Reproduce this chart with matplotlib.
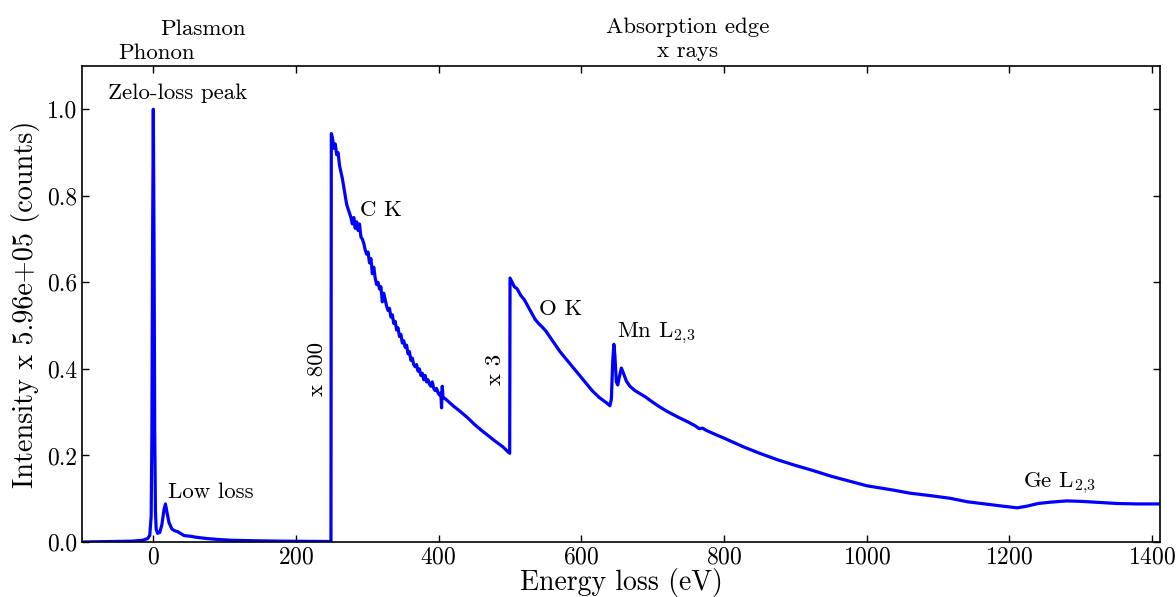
import numpy as np
import matplotlib
matplotlib.use('Agg')
import matplotlib.pyplot as plt

plt.rcParams['font.family'] = 'serif'
plt.rcParams['font.serif'] = ['cmr10', 'DejaVu Serif']
plt.rcParams['mathtext.fontset'] = 'cm'
plt.rcParams['axes.formatter.use_mathtext'] = True

# spectrum (energy in eV, intensity normalised)
energy = [-100, -60, -30, -15, -8, -5, -3, -2, -1, 0, 1, 2, 3, 4, 6, 9, 12, 15, 17, 19,
          22, 26, 30, 34, 38, 43, 48, 53, 60, 75, 90, 110, 140, 180, 220, 249, 249.5,
          251, 253, 255, 257, 259, 261, 263, 265, 267, 269, 271, 273, 275, 277, 279, 281,
          283, 285, 287, 289, 291, 293, 295, 297, 299, 301, 303, 305, 307, 309, 311, 313,
          315, 317, 319, 321, 323, 325, 327, 329, 331, 333, 335, 337, 339, 341, 343, 345,
          347, 349, 351, 353, 355, 357, 359, 361, 363, 365, 367, 369, 371, 373, 375, 377,
          379, 381, 383, 385, 387, 389, 391, 393, 395, 397, 399, 401, 403, 404, 405, 406,
          410, 420, 430, 440, 450, 460, 470, 480, 490, 498, 499.5,
          500, 503, 506, 510, 515, 520, 525, 530, 535, 540, 545, 550, 555, 560, 565, 570,
          575, 580, 585, 590, 595, 600, 605, 610, 615, 620, 625, 630, 635, 640, 642, 644,
          645.5, 647, 649, 651, 653, 656, 659, 663, 668, 675, 680, 690, 700, 710, 720, 735,
          750, 760, 765, 770, 775, 790, 800, 827, 850, 875, 900, 925, 950, 975, 1000, 1037,
          1060, 1090, 1117, 1141, 1170, 1195, 1211, 1225, 1240, 1257, 1280, 1300, 1330,
          1351, 1380, 1410]
intensity = [0.000, 0.001, 0.002, 0.004, 0.008, 0.015, 0.06, 0.25, 0.7, 1.0, 0.7, 0.25, 0.07,
             0.03, 0.02, 0.022, 0.04, 0.075, 0.088, 0.07, 0.045, 0.03, 0.026, 0.024, 0.02,
             0.015, 0.014, 0.013, 0.011, 0.008, 0.006, 0.004, 0.003, 0.002, 0.0015, 0.0012,
             0.944,
             0.935, 0.91, 0.92, 0.895, 0.90, 0.87, 0.855, 0.84, 0.82, 0.80, 0.78, 0.77, 0.76,
             0.75, 0.735, 0.75, 0.725, 0.74, 0.72, 0.735, 0.705, 0.70, 0.69, 0.675, 0.665,
             0.67, 0.645, 0.655, 0.62, 0.635, 0.61, 0.595, 0.60, 0.585, 0.59, 0.555, 0.575,
             0.56, 0.545, 0.535, 0.54, 0.52, 0.525, 0.505, 0.51, 0.49, 0.495, 0.475, 0.48,
             0.46, 0.465, 0.45, 0.455, 0.435, 0.44, 0.42, 0.425, 0.41, 0.405, 0.41, 0.395,
             0.40, 0.385, 0.39, 0.375, 0.385, 0.37, 0.375, 0.365, 0.36, 0.37, 0.355, 0.35,
             0.355, 0.345, 0.34, 0.345, 0.31, 0.36, 0.335,
             0.33, 0.315, 0.302, 0.288, 0.272, 0.258, 0.245, 0.232, 0.22, 0.207, 0.205,
             0.61, 0.60, 0.59, 0.585, 0.57, 0.56, 0.545, 0.53, 0.515, 0.505, 0.497, 0.488,
             0.476, 0.464, 0.452, 0.44, 0.43, 0.42, 0.41, 0.40, 0.39, 0.38, 0.37, 0.36, 0.35,
             0.342, 0.334, 0.328, 0.322, 0.315, 0.33, 0.42,
             0.457, 0.43, 0.37, 0.363, 0.38, 0.402, 0.39, 0.372, 0.36, 0.35, 0.345, 0.335,
             0.323, 0.312, 0.302, 0.289, 0.277, 0.268, 0.262, 0.263, 0.258, 0.247, 0.24,
             0.22, 0.205, 0.19, 0.177, 0.165, 0.152, 0.141, 0.13, 0.12, 0.113, 0.107, 0.101,
             0.093, 0.087, 0.082, 0.079, 0.083, 0.089, 0.092, 0.095, 0.094, 0.091, 0.089,
             0.088, 0.088]

# labels: (text, x, y)
labels_in = [('Zelo-loss peak', -64, 1.037),
             ('Low loss', 21, 0.115),
             ('C K', 290, 0.767),
             ('O K', 540, 0.538),
             (r'Mn L$_{2{,}3}$', 650, 0.483),
             (r'Ge L$_{2{,}3}$', 1219, 0.136)]
labels_top = [('Plasmon', 70, 1.185), ('Phonon', 4, 1.129),
              ('Absorption edge', 749, 1.19), ('x rays', 749, 1.134)]
scale_marks = [('x 800', 230, 0.40), ('x 3', 479, 0.40)]

fig = plt.figure(figsize=(11.76, 5.97), dpi=100)
ax = fig.add_axes([0.0697, 0.0921, 0.9167, 0.7973])
ax.plot(energy, intensity, color='#0000ff', lw=2.3)

ax.set_xlim(-100, 1411)
ax.set_ylim(0, 1.1)
ax.set_xticks([0, 200, 400, 600, 800, 1000, 1200, 1400])
ax.set_yticks([0.0, 0.2, 0.4, 0.6, 0.8, 1.0])
ax.yaxis.set_major_formatter(matplotlib.ticker.FormatStrFormatter('%.1f'))
ax.tick_params(direction='in', top=True, right=True, length=5, width=1, labelsize=17)
ax.tick_params(axis='x', pad=3)
for s in ax.spines.values():
    s.set_linewidth(1.2)

ax.set_xlabel('Energy loss (eV)', fontsize=20, labelpad=0)
ax.set_ylabel('Intensity x 5.96e+05 (counts)', fontsize=20.3, labelpad=5)

for t, x, y in labels_in:
    ax.text(x, y, t, fontsize=16.5, ha='left', va='center')
for t, x, y in labels_top:
    ax.text(x, y, t, fontsize=16.5, ha='center', va='center', clip_on=False)
for t, x, y in scale_marks:
    ax.text(x, y, t, fontsize=16.5, ha='center', va='center', rotation=90)

fig.savefig('out.png', dpi=100)
